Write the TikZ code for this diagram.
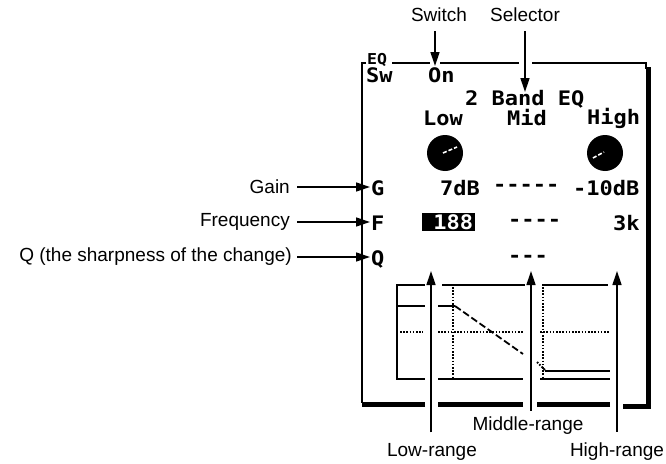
\documentclass[tikz,border=0pt]{standalone}
\usepackage{fontspec}
\setmainfont{Liberation Sans}
\setmonofont[FakeStretch=1.1]{DejaVu Sans Mono}
\usetikzlibrary{arrows.meta}

\tikzset{
  lbl/.style={font=\fontsize{19}{22}\selectfont, inner sep=0pt},
  lcd/.style={font=\ttfamily\bfseries\fontsize{20}{22}\selectfont, inner sep=0pt, anchor=west},
  arr/.style={line width=1.4pt, -{Triangle[length=14pt,width=9pt]}},
  rim/.style={line width=1.6pt},
  shade/.style={line width=5pt},
  scr/.style={line width=1.8pt},
  dotln/.style={line width=1.8pt, dash pattern=on 1.6pt off 1.6pt},
  knob/.style={circle, fill=black, minimum size=36pt, inner sep=0pt},
  ptr/.style={white, line width=1.6pt, dash pattern=on 4pt off 2pt}
}

\begin{document}
\begin{tikzpicture}[x=1pt,y=-1pt]
\useasboundingbox (0,0) rectangle (666,463);

\node[lbl] (switch) at (439,15) {Switch};
\node[lbl] (selector) at (525,15) {Selector};
\node[lbl,anchor=east] (gain) at (290,187) {Gain};
\node[lbl,anchor=east] (freq) at (290,222) {Frequency};
\node[lbl,anchor=east] (qsharp) at (292,257) {Q (the sharpness of the change)};
\node[lbl] (midrange) at (528,426) {Middle-range};
\node[lbl] (lowrange) at (432,452) {Low-range};
\node[lbl] (highrange) at (617,452) {High-range};

\node[lcd,font=\ttfamily\bfseries\fontsize{15}{16}\selectfont] (eq) at (367,60) {EQ};
\node[lcd] (sw) at (366,75) {Sw};
\node[lcd] (on) at (428,75) {On};
\node[lcd] (band) at (465,99) {2 Band EQ};
\node[lcd] (low) at (423,118) {Low};
\node[lcd] (mid) at (507,118) {Mid};
\node[lcd] (high) at (587,118) {High};
\node[lcd] (g) at (371,188) {G};
\node[lcd] (glow) at (440,188) {7dB};
\node[lcd] (gmid) at (493,188) {-----};
\node[lcd] (ghigh) at (573,188) {-10dB};
\node[lcd] (f) at (371,223) {F};
\node[lcd,fill=black,text=white,text width=49pt,align=right,minimum height=18pt,inner xsep=2pt] (flow) at (422,222) {188};
\node[lcd] (fmid) at (508,223) {----};
\node[lcd] (fhigh) at (613,223) {3k};
\node[lcd] (q) at (371,259) {Q};
\node[lcd] (qmid) at (508,259) {---};

\node[knob] (lowknob) at (445,153) {};
\node[knob] (highknob) at (605,153) {};
\draw[ptr] ([shift={(-2,0)}]lowknob.center) -- ([shift={(12,-6)}]lowknob.center);
\draw[ptr] ([shift={(-12,5)}]highknob.center) -- ([shift={(-1,-1)}]highknob.center);

\draw[scr] (425,285) -- (397,285) -- (397,379) -- (425,379);
\draw[scr] (397,306) -- (425,306);
\draw[scr] (442,285) -- (525,285);
\draw[scr] (542,285) -- (608,285);
\draw[scr] (438,379) -- (523,379);
\draw[scr] (540,379) -- (610,379);
\draw[dotln] (400,332) -- (423,332);
\draw[dotln] (438,332) -- (523,332);
\draw[dotln] (540,332) -- (610,332);
\draw[dotln] (453,287) -- (453,379);
\draw[dotln] (543,287) -- (543,379);
\draw[scr] (438,306) -- (455,306);
\draw[scr,dash pattern=on 7pt off 3pt] (455,306) -- (523,354);
\draw[dotln] (537,362) -- (545,370);
\draw[scr] (545,371) -- (610,371);

\draw[rim] (366,63) -- (362,63) -- (362,403);
\draw[rim] (392,63) -- (430,63);
\draw[rim] (440,63) -- (519,63);
\draw[rim] (532,63) -- (646,63) -- (646,69);
\draw[shade] (648,67) -- (648,406.5) -- (623,406.5);
\draw[shade] (610,404) -- (537,404);
\draw[shade] (523,404) -- (438,404);
\draw[shade] (425,404) -- (362,404);

\coordinate (swtip) at (435,66);
\coordinate (seltip) at (525,92);
\coordinate (gtip) at (370,187);
\coordinate (ftip) at (370,222);
\coordinate (qtip) at (370,257);
\coordinate (lowtip) at (431,271);
\coordinate (midtip) at (531,271);
\coordinate (hightip) at (617,271);

\draw[arr,shorten <=9pt] (switch.south -| swtip) -- (swtip);
\draw[arr,shorten <=9pt] (selector.south -| seltip) -- (seltip);
\draw[arr,shorten <=7pt] (gain.east) -- (gtip);
\draw[arr,shorten <=7pt] (freq.east) -- (ftip);
\draw[arr,shorten <=5pt] (qsharp.east) -- (qtip);
\draw[arr,shorten <=11pt] (lowrange.north -| lowtip) -- (lowtip);
\draw[arr,shorten <=6pt] (midrange.north -| midtip) -- (midtip);
\draw[arr,shorten <=11pt] (highrange.north -| hightip) -- (hightip);
\end{tikzpicture}
\end{document}
